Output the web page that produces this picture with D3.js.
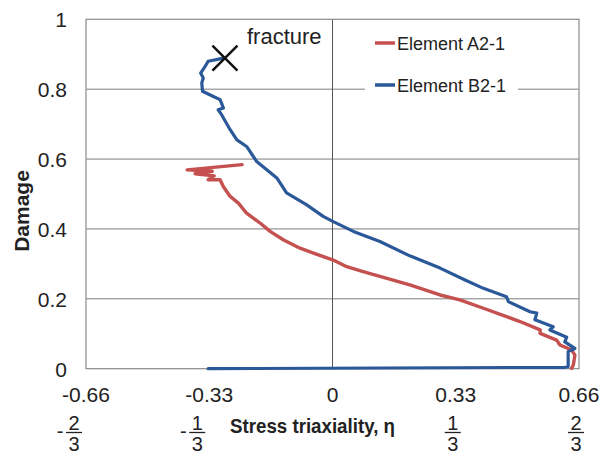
<!DOCTYPE html>
<html>
<head>
<meta charset="utf-8">
<script src="https://cdn.jsdelivr.net/npm/d3@7"></script>
<style>
  html, body { margin: 0; padding: 0; background: #ffffff; }
  svg { display: block; }
  text { font-family: "Liberation Sans", Arial, Helvetica, sans-serif; fill: #222; }
</style>
</head>
<body>
<svg id="chart" width="611" height="456"></svg>
<script>
// ---- data ----
const xTicks = [-0.66, -0.33, 0, 0.33, 0.66];
const xTickLabels = ["-0.66", "-0.33", "0", "0.33", "0.66"];
const fracTicks = [-0.66, -0.33, 0.33, 0.66];
const fracNumerators = ["2", "1", "1", "2"];
const fracSigns = ["-", "-", "", ""];
const yTicks = [0, 0.2, 0.4, 0.6, 0.8, 1];
const yTickLabels = ["0", "0.2", "0.4", "0.6", "0.8", "1"];
const seriesNames = ["Element A2-1", "Element B2-1"];

// Element A2-1 (red): stress triaxiality, damage
const a2x = [0.640, 0.645, 0.649, 0.640, 0.609, 0.600, 0.556, 0.556, 0.502, 0.466, 0.404, 0.341, 0.288, 0.207, 0.127, 0.082, 0.038, 0.002, -0.051, -0.087, -0.132, -0.167, -0.194, -0.230, -0.252, -0.274, -0.292, -0.301, -0.333, -0.317, -0.368, -0.322, -0.389, -0.242];
const a2y = [0.001, 0.011, 0.039, 0.054, 0.068, 0.082, 0.101, 0.111, 0.135, 0.149, 0.173, 0.197, 0.211, 0.240, 0.264, 0.278, 0.292, 0.311, 0.331, 0.345, 0.369, 0.393, 0.417, 0.445, 0.474, 0.493, 0.521, 0.541, 0.541, 0.552, 0.558, 0.565, 0.569, 0.584];

// Element B2-1 (blue)
const b2x = [-0.333, 0.622, 0.631, 0.631, 0.649, 0.622, 0.627, 0.582, 0.591, 0.542, 0.547, 0.529, 0.471, 0.466, 0.404, 0.355, 0.288, 0.207, 0.127, 0.056, 0.002, -0.025, -0.069, -0.123, -0.149, -0.203, -0.230, -0.256, -0.274, -0.297, -0.306, -0.292, -0.301, -0.319, -0.348, -0.350, -0.346, -0.353, -0.341, -0.333, -0.292];
const b2y = [0.000, 0.004, 0.006, 0.049, 0.058, 0.077, 0.090, 0.111, 0.120, 0.140, 0.159, 0.163, 0.192, 0.206, 0.230, 0.254, 0.288, 0.323, 0.364, 0.393, 0.421, 0.436, 0.469, 0.503, 0.546, 0.593, 0.636, 0.655, 0.684, 0.727, 0.741, 0.746, 0.770, 0.779, 0.794, 0.818, 0.832, 0.846, 0.865, 0.880, 0.889];

const colors = ["#c4514f", "#2a5898"];

// ---- chart ----
const svg = d3.select("#chart");
const x = d3.scaleLinear().domain([-0.66, 0.66]).range([86, 579]);
const y = d3.scaleLinear().domain([0, 1]).range([368.7, 19.3]);

svg.append("rect").attr("width", 611).attr("height", 456).attr("fill", "#ffffff");

// horizontal gridlines
svg.append("g").selectAll("line").data(yTicks.filter(d => d > 0 && d < 1)).join("line")
  .attr("x1", x.range()[0]).attr("x2", x.range()[1])
  .attr("y1", d => y(d)).attr("y2", d => y(d))
  .attr("stroke", "#7d7d7d").attr("stroke-width", 1);

// vertical line at 0
svg.append("line")
  .attr("x1", x(0)).attr("x2", x(0)).attr("y1", y(0)).attr("y2", y(1))
  .attr("stroke", "#555").attr("stroke-width", 1);

// plot border
svg.append("rect")
  .attr("x", x.range()[0]).attr("y", y(1))
  .attr("width", x.range()[1] - x.range()[0]).attr("height", y(0) - y(1))
  .attr("fill", "none").attr("stroke", "#8a8a8a").attr("stroke-width", 1.2);

// y tick labels
svg.append("g").selectAll("text").data(yTicks).join("text")
  .attr("x", 67).attr("y", d => y(d) + 7.8)
  .attr("text-anchor", "end").attr("font-size", 21)
  .text((d, i) => yTickLabels[i]);

// x tick labels
svg.append("g").selectAll("text").data(xTicks).join("text")
  .attr("x", d => x(d)).attr("y", 402)
  .attr("text-anchor", "middle").attr("font-size", 21)
  .text((d, i) => xTickLabels[i]);

// fraction labels
const fg = svg.append("g");
fracTicks.forEach((v, i) => {
  const cx = x(v) + (v < 0 ? -12 : -3);
  fg.append("text").attr("x", cx).attr("y", 430).attr("text-anchor", "middle")
    .attr("font-size", 20).text(fracNumerators[i]);
  fg.append("line").attr("x1", cx - 8).attr("x2", cx + 8).attr("y1", 432.5).attr("y2", 432.5)
    .attr("stroke", "#222").attr("stroke-width", 1.3);
  fg.append("text").attr("x", cx).attr("y", 451).attr("text-anchor", "middle")
    .attr("font-size", 20).text("3");
  if (fracSigns[i]) {
    fg.append("text").attr("x", cx - 14).attr("y", 438).attr("text-anchor", "middle")
      .attr("font-size", 20).text(fracSigns[i]);
  }
});

// axis titles
svg.append("text")
  .attr("x", 230).attr("y", 433)
  .attr("font-size", 21).attr("font-weight", "bold")
  .attr("textLength", 165).attr("lengthAdjust", "spacingAndGlyphs")
  .text("Stress triaxiality, η");

svg.append("text")
  .attr("transform", "translate(29,211) rotate(-90)")
  .attr("text-anchor", "middle").attr("font-size", 21).attr("font-weight", "bold")
  .text("Damage");

// legend background (hides gridline)
svg.append("rect").attr("x", 365).attr("y", 27).attr("width", 153).attr("height", 70).attr("fill", "#ffffff");

// series lines
const line = d3.line().x(d => x(d[0])).y(d => y(d[1]));
const seriesData = [d3.zip(a2x, a2y), d3.zip(b2x, b2y)];
seriesData.forEach((pts, i) => {
  svg.append("path").datum(pts)
    .attr("d", line)
    .attr("fill", "none")
    .attr("stroke", colors[i])
    .attr("stroke-width", i === 0 ? 3.4 : 3.2)
    .attr("stroke-linejoin", "round")
    .attr("stroke-linecap", "round");
});

// legend
const legY = [43, 85];
seriesNames.forEach((name, i) => {
  svg.append("line").attr("x1", 375).attr("x2", 395).attr("y1", legY[i]).attr("y2", legY[i])
    .attr("stroke", colors[i]).attr("stroke-width", 3.5);
  svg.append("text").attr("x", 397).attr("y", legY[i] + 6.5)
    .attr("font-size", 18).text(name);
});

// fracture marker at end of B2-1
const fx = x(b2x[b2x.length - 1]) + 1.5, fy = y(b2y[b2y.length - 1]);
const s = 12.5;
svg.append("path")
  .attr("d", `M${fx - s},${fy - s}L${fx + s},${fy + s}M${fx - s},${fy + s}L${fx + s},${fy - s}`)
  .attr("stroke", "#111").attr("stroke-width", 2.5).attr("fill", "none");
svg.append("text").attr("x", 247).attr("y", 44).attr("font-size", 22).text("fracture");
</script>
</body>
</html>
